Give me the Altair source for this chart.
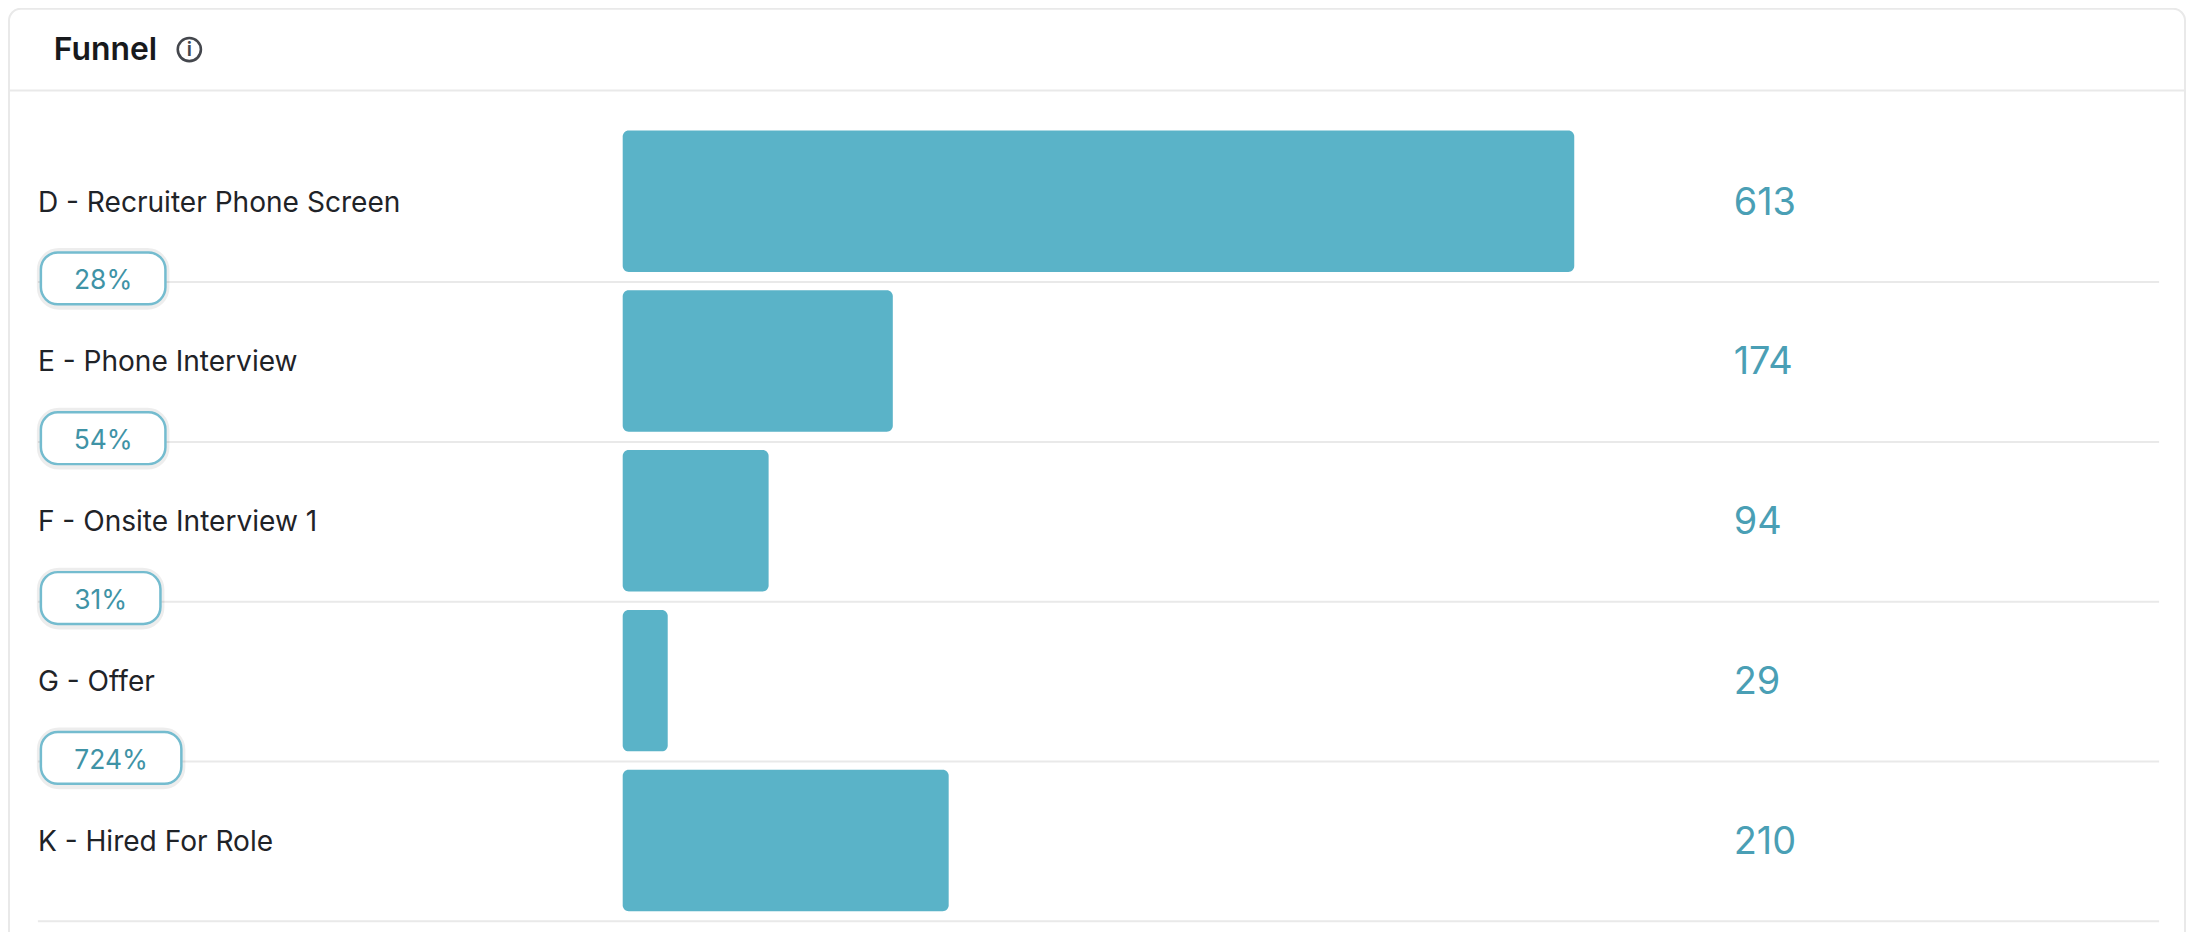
import altair as alt
import pandas as pd

stages = ["D - Recruiter Phone Screen", "E - Phone Interview", "F - Onsite Interview 1", "G - Offer", "K - Hired For Role"]
counts = [613, 174, 94, 29, 210]
rates = ["28%", "54%", "31%", "724%", ""]
title_text = ["Funnel"]

BAR = "#5ab3c8"
NUM = "#4a9fb5"
PILL_TEXT = "#3f93a6"
PILL_EDGE = "#74bccf"
GRID = "#e9e9e9"
INK = "#1f2328"
FONT = "Inter"
W, H = 2186, 924

df = pd.DataFrame({"stage": stages, "count": counts, "rate": rates})
pills = df[df["rate"] != ""]

yscale = alt.Scale(domain=stages, range=[112, 914], paddingInner=0, paddingOuter=0)
xscale = alt.Scale(domain=[-396.0, 1007.1], range=[0, W], nice=False, zero=False)
Y = alt.Y("stage:N", scale=yscale, axis=None, sort=stages)
Ybot = alt.Y("stage:N", scale=yscale, axis=None, sort=stages, bandPosition=1)

card = alt.Chart(pd.DataFrame({"a": [0]})).mark_rect(
    fill="white", stroke=GRID, strokeWidth=2, cornerRadius=12
).encode(x=alt.value(1), x2=alt.value(2185), y=alt.value(-1), y2=alt.value(960))

header_line = alt.Chart(pd.DataFrame({"a": [0]})).mark_rule(color=GRID, strokeWidth=2).encode(
    x=alt.value(1), x2=alt.value(2185), y=alt.value(81)
)

title = alt.Chart(pd.DataFrame({"t": title_text})).mark_text(
    font=FONT, fontSize=32, fontWeight=600, color="#17191c", align="left", baseline="middle"
).encode(x=alt.value(46), y=alt.value(40), text="t:N")

icon_ring = alt.Chart(pd.DataFrame({"a": [0]})).mark_point(
    shape="circle", size=540, filled=False, stroke="#44474d", strokeWidth=2.6, opacity=1
).encode(x=alt.value(182), y=alt.value(40))

icon_i = alt.Chart(pd.DataFrame({"t": ["i"]})).mark_text(
    font=FONT, fontSize=20, fontWeight=600, color="#44474d", align="center", baseline="middle"
).encode(x=alt.value(182), y=alt.value(40), text="t:N")

rows = alt.Chart(df).mark_rule(color=GRID, strokeWidth=2, yOffset=1).encode(
    x=alt.value(30), x2=alt.value(2159), y=Ybot
)

bars = alt.Chart(df).mark_bar(color=BAR, height=142, cornerRadius=6).encode(
    x=alt.X("count:Q", scale=xscale, axis=None), x2=alt.datum(0), y=Y
)

labels = alt.Chart(df).mark_text(
    font=FONT, fontSize=28.2, color=INK, align="left", baseline="middle", yOffset=2.5
).encode(x=alt.value(30), y=Y, text="stage:N")

values = alt.Chart(df).mark_text(
    font=FONT, fontSize=38, color=NUM, align="left", baseline="middle", yOffset=2.5
).encode(x=alt.value(1732), y=Y, text="count:Q")

pill_right = {"28%": 158, "54%": 158, "31%": 153, "724%": 174}
pill_layers = []
for _, row in pills.iterrows():
    one = pills[pills["rate"] == row["rate"]]
    right = pill_right[row["rate"]]
    pill_layers.append(alt.Chart(one).mark_bar(
        fill="white", stroke="#000000", strokeOpacity=0.07, strokeWidth=8, height=54,
        cornerRadius=18, yOffset=78
    ).encode(x=alt.value(33), x2=alt.value(right), y=Y))
    pill_layers.append(alt.Chart(one).mark_bar(
        fill="white", stroke=PILL_EDGE, strokeWidth=2.5, height=52,
        cornerRadius=17, yOffset=77.5
    ).encode(x=alt.value(33), x2=alt.value(right), y=Y))
    pill_layers.append(alt.Chart(one).mark_text(
        font=FONT, fontSize=26.5, color=PILL_TEXT, align="center", baseline="middle", yOffset=80.5
    ).encode(x=alt.value((33 + right) / 2), y=Y, text="rate:N"))

chart = alt.layer(
    card, header_line, title, icon_ring, icon_i, rows, bars, labels, values, *pill_layers
).properties(
    width=W, height=H, padding=0, background="white",
    autosize=alt.AutoSizeParams(type="none"),
).configure_view(stroke=None)

chart.save("out.html", embed_options={"renderer": "svg", "actions": False})
